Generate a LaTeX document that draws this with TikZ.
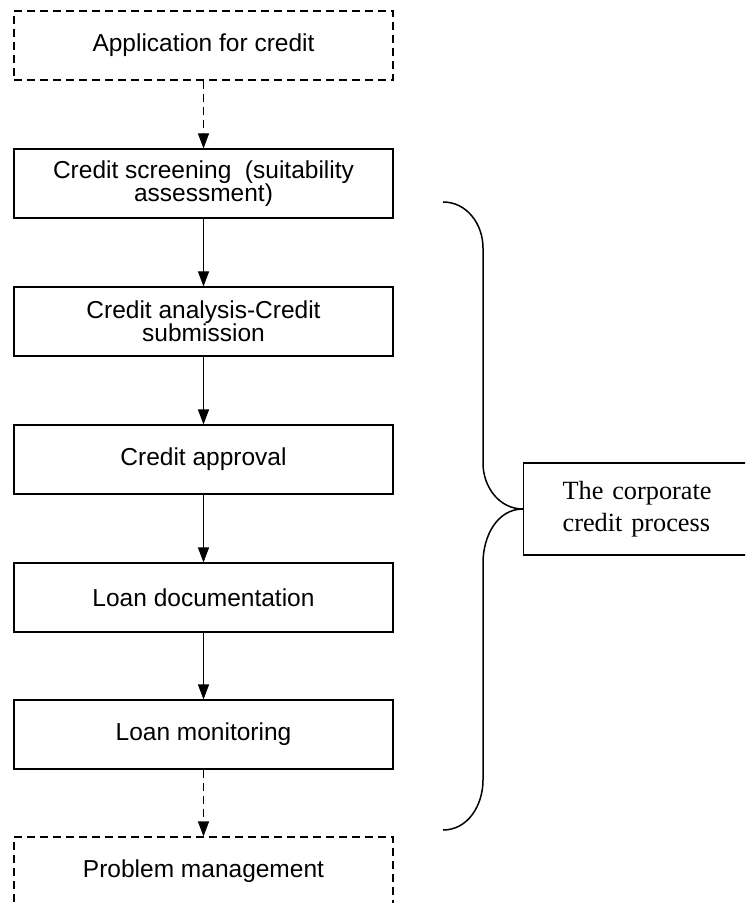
\documentclass[tikz,border=0pt]{standalone}
\usepackage{fontspec}
\setmainfont{Liberation Serif}
\setsansfont{Liberation Sans}
\usetikzlibrary{arrows.meta}
\begin{document}
\begin{tikzpicture}[x=0.5pt,y=-0.5pt,
  stepbox/.style={draw, line width=0.55pt, minimum width=189.5pt, minimum height=34.5pt,
    inner sep=2pt, align=center, font=\sffamily\fontsize{12.25}{11.7}\selectfont},
  optbox/.style={stepbox, dash pattern=on 4pt off 2.5pt},
  flow/.style={line width=0.55pt, -{Triangle[length=7.5pt,width=5.5pt]}},
  optflow/.style={flow, dash pattern=on 4pt off 2.5pt},
  brace/.style={line width=0.75pt}]
\useasboundingbox (0,0) rectangle (745,903);
\clip (0,0) rectangle (745,903);

% process steps
\node[optbox]   (app)  at (203.5,45.5)  {Application for credit};
\node[stepbox]  (scr)  at (203.5,183.5) {Credit screening\ \ (suitability\\assessment)};
\node[stepbox]  (ana)  at (203.5,321.5) {Credit analysis-Credit\\submission};
\node[stepbox]  (appr) at (203.5,459.5) {Credit approval};
\node[stepbox]  (doc)  at (203.5,597.5) {Loan documentation};
\node[stepbox]  (mon)  at (203.5,734.5) {Loan monitoring};
\node[optbox]   (prob) at (203.5,871.5) {Problem management};

% connectors
\draw[optflow] (app)  -- (scr);
\draw[flow]    (scr)  -- (ana);
\draw[flow]    (ana)  -- (appr);
\draw[flow]    (appr) -- (doc);
\draw[flow]    (doc)  -- (mon);
\draw[optflow] (mon)  -- (prob);

% label for the bracketed steps
\node[draw, line width=0.6pt, anchor=west, minimum height=46pt, inner xsep=19.5pt,
  text width=94.5pt, align=left, font=\fontsize{13.15}{15.8}\selectfont]
  (proc) at (523,509) {The corporate\\credit process};

% curly brace
\coordinate (btop) at (443,202);
\coordinate (bbot) at (443,830);
\draw[brace] (btop) to[out=0,in=90] (483,248) -- (483,463)
  to[out=-90,in=180] (proc.west) to[out=180,in=90] (483,563) -- (483,780)
  to[out=-90,in=0] (bbot);
\end{tikzpicture}
\end{document}
